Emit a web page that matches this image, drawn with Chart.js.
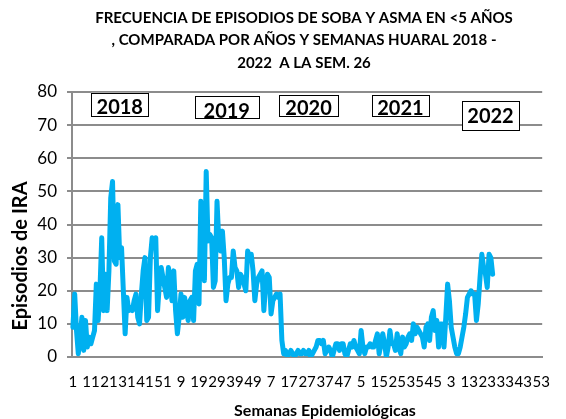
<!DOCTYPE html>
<html>
<head>
<meta charset="utf-8">
<script src="https://cdn.jsdelivr.net/npm/chart.js@4.4.0/dist/chart.umd.min.js"></script>
<style>
  html, body { margin: 0; padding: 0; background: #fff; }
  #wrap { width: 566px; height: 419px; }
</style>
</head>
<body>
<div id="wrap"><canvas id="chart" width="566" height="419"></canvas></div>
<script>
// weekly episodes per year (2022 only up to week 26)
const years = ["2018", "2019", "2020", "2021", "2022"];
const weeksInYear = [52, 52, 52, 52, 53];
const s2018 = [9,19,8,1,6,12,2,11,3,6,4,6,8,22,11,20,36,14,25,14,26,48,53,29,28,46,30,33,20,7,
  18,14,15,14,17,19,12,10,19,26,30,11,12,30,36,35,36,14,22,27,24,21];
const s2019 = [18,27,24,17,26,14,7,12,19,12,18,14,11,17,18,11,26,28,16,47,30,23,56,35,37,36,21,23,47,35,
  32,38,30,17,22,24,24,32,27,26,21,25,24,22,20,32,30,31,26,17,22,24];
const s2020 = [25,26,14,22,25,24,13,17,18,19,18,19,5,1,2,0,1,2,1,0,1,2,1,1,2,1,1,2,0,1,
  2,3,5,5,4,5,1,2,3,2,0,2,4,4,2,4,4,1,0,2,4,3];
const s2021 = [5,3,2,1,8,3,1,3,3,4,3,3,5,7,1,4,7,4,0,3,8,4,4,2,7,3,1,6,3,4,
  6,7,5,10,7,9,8,7,6,3,9,10,5,12,14,8,11,3,10,10,3,12];
const s2022 = [22,17,9,6,3,1,1,3,6,9,13,18,19,20,19,19,11,16,24,31,27,25,21,31,30,25];

const titleLines = ["FRECUENCIA DE EPISODIOS DE SOBA Y ASMA EN <5 AÑOS",
  ", COMPARADA POR AÑOS Y SEMANAS HUARAL 2018 -",
  "2022  A LA SEM. 26"];

let labels = [];
weeksInYear.forEach(n => { for (let w = 1; w <= n; w++) labels.push(String(w)); });
let values = s2018.concat(s2019, s2020, s2021, s2022);

// year boxes: category index + y value for placement
const yearBoxes = [
  {t: years[0], i: 26, y: 76.3, w: 57, h: 23, dy: 3},
  {t: years[1], i: 85.4, y: 75.6, w: 64, h: 22, dy: 5},
  {t: years[2], i: 130.8, y: 75.9, w: 59, h: 21, dy: 3},
  {t: years[3], i: 181.8, y: 75.9, w: 57, h: 21, dy: 3},
  {t: years[4], i: 231.8, y: 72.8, w: 57, h: 29, dy: 1}
];

const txt = "Lato, 'DejaVu Sans', sans-serif";

const extras = {
  id: "extras",
  afterDraw(chart) {
    const ctx = chart.ctx, xs = chart.scales.x, ys = chart.scales.y;
    ctx.save();
    ctx.fillStyle = "#000";
    ctx.textAlign = "center";
    ctx.textBaseline = "middle";
    ctx.font = "bold 15px " + txt;
    titleLines.forEach((l, k) => ctx.fillText(l, 304, 18 + k * 22.5));

    yearBoxes.forEach(b => {
      const cx = xs.left + (b.i + 0.5) * (xs.width / labels.length);
      const cy = ys.getPixelForValue(b.y);
      ctx.fillStyle = "#fff";
      ctx.fillRect(cx - b.w / 2, cy - b.h / 2, b.w, b.h);
      ctx.strokeStyle = "#000";
      ctx.lineWidth = 1;
      ctx.strokeRect(Math.round(cx - b.w / 2) + 0.5, Math.round(cy - b.h / 2) + 0.5, b.w, b.h);
      ctx.fillStyle = "#000";
      ctx.font = "bold 20px " + txt;
      ctx.textBaseline = "middle";
      ctx.fillText(b.t, cx, cy + b.dy);
    });

    ctx.font = "bold 20px " + txt;
    ctx.translate(21, 256);
    ctx.rotate(-Math.PI / 2);
    ctx.fillText("Episodios de IRA", 0, 0);
    ctx.restore();

    ctx.save();
    ctx.fillStyle = "#000";
    ctx.textAlign = "center";
    ctx.textBaseline = "middle";
    ctx.font = "bold 16px " + txt;
    ctx.fillText("Semanas Epidemiológicas", 325, 411);
    ctx.restore();
  }
};

new Chart(document.getElementById("chart"), {
  type: "line",
  data: {
    labels: labels,
    datasets: [{
      data: values,
      borderColor: "#00B0F0",
      borderWidth: 5,
      pointRadius: 0,
      tension: 0,
      borderJoinStyle: "round",
      borderCapStyle: "round"
    }]
  },
  options: {
    responsive: false,
    animation: false,
    layout: { padding: { top: 92, right: 8, left: 0, bottom: 0 } },
    plugins: { legend: { display: false }, tooltip: { enabled: false } },
    scales: {
      x: {
        offset: true,
        afterFit: s => { s.height = 62; },
        grid: { display: true, drawOnChartArea: false, drawTicks: false, offset: true },
        border: { display: true, color: "#8c8c8c", width: 2 },
        ticks: {
          autoSkip: false, maxRotation: 0, minRotation: 0, padding: 16,
          color: "#000", font: { family: txt, size: 15 },
          callback: (v, i) => (i % 10 === 0 ? labels[i] : "")
        }
      },
      y: {
        min: 0, max: 80,
        afterFit: s => { s.width = 72; },
        grid: { color: "#8c8c8c", lineWidth: 2, tickLength: 5 },
        border: { display: true, color: "#8c8c8c", width: 2 },
        ticks: { stepSize: 10, padding: 10, color: "#000", font: { family: txt, size: 17 } }
      }
    }
  },
  plugins: [extras]
});
</script>
</body>
</html>
